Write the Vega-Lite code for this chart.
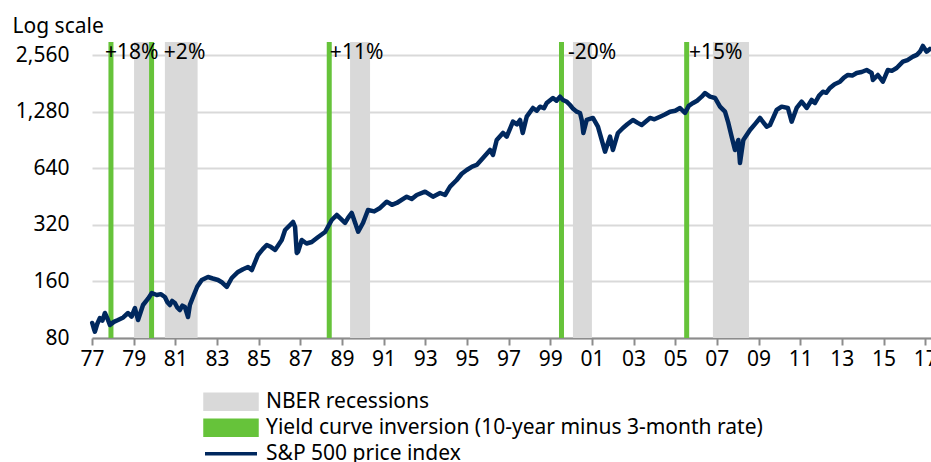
{
  "$schema": "https://vega.github.io/schema/vega-lite/v6.json",
  "width": 839,
  "height": 296,
  "autosize": "none",
  "padding": {"left": 92, "top": 42, "right": 0, "bottom": 124},
  "datasets": {
    "recessions": [
      {"start": 1979.02, "end": 1979.74},
      {"start": 1980.50, "end": 1982.07},
      {"start": 1989.39, "end": 1990.35},
      {"start": 2000.09, "end": 2001.00},
      {"start": 2006.81, "end": 2008.54}
    ],
    "inversions": [
      {"date": 1977.91},
      {"date": 1979.86},
      {"date": 1988.39},
      {"date": 1999.54},
      {"date": 2005.55}
    ],
    "labels": [
      {"x": 1977.62, "y": 2450, "text": "+18%"},
      {"x": 1980.45, "y": 2450, "text": "+2%"},
      {"x": 1988.42, "y": 2450, "text": "+11%"},
      {"x": 1999.85, "y": 2450, "text": "-20%"},
      {"x": 2005.66, "y": 2450, "text": "+15%"}
    ],
    "sp500": [
      {"year": 1977.01, "value": 96.2}, {"year": 1977.08, "value": 90.5}, {"year": 1977.14, "value": 86.4}, {"year": 1977.25, "value": 95.0}, {"year": 1977.38, "value": 102.2},
      {"year": 1977.50, "value": 99.0}, {"year": 1977.62, "value": 108.7}, {"year": 1977.75, "value": 101.0}, {"year": 1977.86, "value": 93.8}, {"year": 1978.05, "value": 97.5}, {"year": 1978.25, "value": 99.8},
      {"year": 1978.50, "value": 103.0}, {"year": 1978.73, "value": 108.7}, {"year": 1978.90, "value": 104.0}, {"year": 1979.06, "value": 115.6}, {"year": 1979.21, "value": 99.8},
      {"year": 1979.45, "value": 119.9}, {"year": 1979.70, "value": 130.0}, {"year": 1979.87, "value": 139.0}, {"year": 1980.11, "value": 135.6},
      {"year": 1980.30, "value": 137.0}, {"year": 1980.50, "value": 132.3}, {"year": 1980.62, "value": 124.0}, {"year": 1980.74, "value": 119.9}, {"year": 1980.85, "value": 126.0}, {"year": 1980.98, "value": 122.9},
      {"year": 1981.10, "value": 116.0}, {"year": 1981.22, "value": 112.8}, {"year": 1981.34, "value": 119.0}, {"year": 1981.46, "value": 117.0}, {"year": 1981.61, "value": 103.5},
      {"year": 1981.70, "value": 120.0}, {"year": 1981.85, "value": 132.3}, {"year": 1982.05, "value": 150.0}, {"year": 1982.27, "value": 163.0}, {"year": 1982.57, "value": 169.1},
      {"year": 1982.80, "value": 166.0}, {"year": 1983.05, "value": 163.0}, {"year": 1983.25, "value": 158.0}, {"year": 1983.47, "value": 149.6}, {"year": 1983.71, "value": 167.0},
      {"year": 1984.01, "value": 179.8}, {"year": 1984.25, "value": 186.0}, {"year": 1984.49, "value": 191.2}, {"year": 1984.67, "value": 184.2},
      {"year": 1984.97, "value": 221.5}, {"year": 1985.20, "value": 238.0}, {"year": 1985.39, "value": 250.4}, {"year": 1985.60, "value": 244.0}, {"year": 1985.79, "value": 235.5},
      {"year": 1986.11, "value": 266.2}, {"year": 1986.27, "value": 301.0}, {"year": 1986.51, "value": 320.0},
      {"year": 1986.65, "value": 332.0}, {"year": 1986.75, "value": 312.2}, {"year": 1986.83, "value": 227.0},
      {"year": 1986.89, "value": 230.0}, {"year": 1987.07, "value": 266.2}, {"year": 1987.30, "value": 255.0}, {"year": 1987.55, "value": 259.8},
      {"year": 1987.86, "value": 276.2}, {"year": 1988.19, "value": 293.7}, {"year": 1988.51, "value": 340.3},
      {"year": 1988.75, "value": 361.8}, {"year": 1988.95, "value": 345.0}, {"year": 1989.15, "value": 328.0}, {"year": 1989.30, "value": 350.0}, {"year": 1989.47, "value": 370.8},
      {"year": 1989.78, "value": 294.8}, {"year": 1990.01, "value": 328.0}, {"year": 1990.25, "value": 384.7}, {"year": 1990.55, "value": 378.0},
      {"year": 1990.83, "value": 394.2}, {"year": 1991.15, "value": 425.9}, {"year": 1991.40, "value": 410.0}, {"year": 1991.63, "value": 419.2},
      {"year": 1992.11, "value": 452.8}, {"year": 1992.35, "value": 440.0}, {"year": 1992.59, "value": 462.4}, {"year": 1992.99, "value": 481.5},
      {"year": 1993.37, "value": 452.8}, {"year": 1993.71, "value": 473.8}, {"year": 1993.95, "value": 462.4},
      {"year": 1994.19, "value": 511.9}, {"year": 1994.51, "value": 555.8}, {"year": 1994.75, "value": 600.0}, {"year": 1994.99, "value": 628.3},
      {"year": 1995.25, "value": 655.0}, {"year": 1995.47, "value": 668.0}, {"year": 1995.77, "value": 728.0}, {"year": 1996.11, "value": 803.1},
      {"year": 1996.25, "value": 755.3}, {"year": 1996.43, "value": 907.9}, {"year": 1996.73, "value": 989.4},
      {"year": 1996.91, "value": 945.4}, {"year": 1997.21, "value": 1136.5}, {"year": 1997.40, "value": 1100.0}, {"year": 1997.55, "value": 1160.5},
      {"year": 1997.68, "value": 989.4}, {"year": 1997.87, "value": 1208.3}, {"year": 1998.17, "value": 1344.5}, {"year": 1998.35, "value": 1300.0},
      {"year": 1998.51, "value": 1366.1}, {"year": 1998.70, "value": 1340.0}, {"year": 1998.83, "value": 1429.5}, {"year": 1999.13, "value": 1520.0},
      {"year": 1999.30, "value": 1470.0}, {"year": 1999.47, "value": 1544.4}, {"year": 1999.61, "value": 1483.0}, {"year": 1999.80, "value": 1450.0}, {"year": 1999.95, "value": 1394.8},
      {"year": 2000.10, "value": 1330.0}, {"year": 2000.27, "value": 1284.7}, {"year": 2000.43, "value": 1264.3}, {"year": 2000.52, "value": 1150.0}, {"year": 2000.59, "value": 989.4},
      {"year": 2000.75, "value": 1160.5}, {"year": 2001.05, "value": 1189.3}, {"year": 2001.29, "value": 1068.9},
      {"year": 2001.47, "value": 907.9}, {"year": 2001.63, "value": 786.5}, {"year": 2001.87, "value": 945.4},
      {"year": 2002.01, "value": 803.1}, {"year": 2002.25, "value": 989.4}, {"year": 2002.49, "value": 1051.9}, {"year": 2002.70, "value": 1100.0},
      {"year": 2002.97, "value": 1160.5}, {"year": 2003.20, "value": 1120.0}, {"year": 2003.39, "value": 1091.4}, {"year": 2003.79, "value": 1189.3},
      {"year": 2004.00, "value": 1170.0}, {"year": 2004.27, "value": 1208.3}, {"year": 2004.50, "value": 1240.0}, {"year": 2004.75, "value": 1284.7}, {"year": 2005.00, "value": 1300.0}, {"year": 2005.23, "value": 1344.5},
      {"year": 2005.47, "value": 1264.3}, {"year": 2005.65, "value": 1380.0}, {"year": 2005.86, "value": 1429.5}, {"year": 2006.05, "value": 1470.0}, {"year": 2006.27, "value": 1544.4},
      {"year": 2006.43, "value": 1616.0}, {"year": 2006.67, "value": 1544.4}, {"year": 2006.91, "value": 1520.0},
      {"year": 2007.15, "value": 1366.1}, {"year": 2007.39, "value": 1284.7}, {"year": 2007.55, "value": 1118.5},
      {"year": 2007.71, "value": 945.4}, {"year": 2007.87, "value": 803.1}, {"year": 2008.03, "value": 907.9},
      {"year": 2008.11, "value": 684.6}, {"year": 2008.27, "value": 907.9}, {"year": 2008.59, "value": 1026.4}, {"year": 2008.85, "value": 1110.0},
      {"year": 2009.07, "value": 1189.3}, {"year": 2009.39, "value": 1068.9}, {"year": 2009.55, "value": 1091.4},
      {"year": 2009.87, "value": 1311.8}, {"year": 2010.11, "value": 1366.1}, {"year": 2010.41, "value": 1344.5},
      {"year": 2010.59, "value": 1136.5}, {"year": 2010.83, "value": 1344.5}, {"year": 2011.07, "value": 1452.6},
      {"year": 2011.31, "value": 1344.5}, {"year": 2011.55, "value": 1483.0}, {"year": 2011.71, "value": 1429.5}, {"year": 2011.90, "value": 1560.0},
      {"year": 2012.09, "value": 1642.0}, {"year": 2012.25, "value": 1620.0}, {"year": 2012.43, "value": 1718.3}, {"year": 2012.65, "value": 1800.0}, {"year": 2012.91, "value": 1856.3},
      {"year": 2013.10, "value": 1950.0}, {"year": 2013.29, "value": 2015.3}, {"year": 2013.50, "value": 2000.0}, {"year": 2013.71, "value": 2065.3}, {"year": 2013.95, "value": 2090.0}, {"year": 2014.19, "value": 2142.6},
      {"year": 2014.43, "value": 2065.3}, {"year": 2014.49, "value": 1895.4}, {"year": 2014.73, "value": 2015.3},
      {"year": 2014.97, "value": 1856.3}, {"year": 2015.21, "value": 2142.6}, {"year": 2015.40, "value": 2120.0}, {"year": 2015.63, "value": 2195.9},
      {"year": 2015.93, "value": 2372.6}, {"year": 2016.15, "value": 2420.0}, {"year": 2016.41, "value": 2522.8}, {"year": 2016.60, "value": 2580.0}, {"year": 2016.75, "value": 2682.3},
      {"year": 2016.89, "value": 2876.5}, {"year": 2017.07, "value": 2682.3}, {"year": 2017.23, "value": 2772.7}
    ]
  },
  "layer": [
    {
      "data": {"name": "recessions"},
      "mark": {"type": "rect"},
      "encoding": {
        "x": {"field": "start", "type": "quantitative", "scale": {"domain": [1977, 2017.28], "nice": false, "zero": false}},
        "x2": {"field": "end"},
        "color": {
          "datum": "NBER recessions",
          "type": "nominal",
          "scale": {
            "domain": ["NBER recessions", "Yield curve inversion (10-year minus 3-month rate)", "S&P 500 price index"],
            "range": ["#d9d9d9", "#66c33a", "#00285e"]
          },
          "legend": {
            "title": null,
            "orient": "none",
            "legendX": 111,
            "legendY": 347,
            "direction": "vertical",
            "padding": 0,
            "symbolSize": 2704,
            "clipHeight": 25.5,
            "rowPadding": 0,
            "labelOffset": 7,
            "labelFontSize": 21,
            "labelFont": "Noto Sans",
            "labelColor": "#000000",
            "labelLimit": 700,
            "encode": {
              "symbols": {
                "update": {
                  "shape": {"signal": "datum.value === 'S&P 500 price index' ? 'M-1,0H1' : 'M-1,-0.29H1V0.29H-1Z'"},
                  "fill": {"signal": "datum.value === 'NBER recessions' ? '#d9d9d9' : (datum.value === 'S&P 500 price index' ? 'transparent' : '#66c33a')"},
                  "stroke": {"signal": "datum.value === 'S&P 500 price index' ? '#00285e' : 'transparent'"},
                  "strokeWidth": {"value": 3.5},
                  "opacity": {"value": 1},
                  "fillOpacity": {"value": 1},
                  "strokeOpacity": {"value": 1}
                }
              }
            }
          }
        }
      }
    },
    {
      "data": {"name": "inversions"},
      "mark": {"type": "rule", "strokeWidth": 5},
      "encoding": {
        "x": {"field": "date", "type": "quantitative"},
        "color": {"datum": "Yield curve inversion (10-year minus 3-month rate)", "type": "nominal"}
      }
    },
    {
      "data": {"name": "sp500"},
      "mark": {"type": "line", "strokeWidth": 4.5, "strokeJoin": "round", "strokeCap": "round"},
      "encoding": {
        "x": {
          "field": "year",
          "type": "quantitative",
          "axis": {
            "title": null,
            "values": [1977, 1979, 1981, 1983, 1985, 1987, 1989, 1991, 1993, 1995, 1997, 1999, 2001, 2003, 2005, 2007, 2009, 2011, 2013, 2015, 2017],
            "labelExpr": "substring(toString(datum.value), 2)",
            "grid": false,
            "domainColor": "#8c8c8c",
            "domainWidth": 2,
            "tickColor": "#8c8c8c",
            "tickWidth": 2,
            "tickSize": 7,
            "labelPadding": 3,
            "labelFontSize": 21,
            "labelColor": "#000000",
            "labelFont": "Noto Sans",
            "labelFlush": false,
            "labelOverlap": false
          }
        },
        "y": {
          "field": "value",
          "type": "quantitative",
          "scale": {"type": "log", "domain": [80, 3020], "nice": false},
          "axis": {
            "title": "Log scale",
            "titleAngle": 0,
            "titleAlign": "left",
            "titleBaseline": "alphabetic",
            "titleX": -80,
            "titleY": -10,
            "titleFontSize": 21,
            "titleFontWeight": "normal",
            "titleFont": "Noto Sans",
            "titleColor": "#000000",
            "values": [80, 160, 320, 640, 1280, 2560],
            "format": ",d",
            "domain": false,
            "ticks": false,
            "labelPadding": 23,
            "labelFontSize": 21,
            "labelColor": "#000000",
            "labelFont": "Noto Sans",
            "grid": true,
            "gridColor": "#d9d9d9",
            "gridWidth": 2
          }
        },
        "color": {"datum": "S&P 500 price index", "type": "nominal"}
      }
    },
    {
      "data": {"name": "labels"},
      "mark": {"type": "text", "align": "left", "baseline": "alphabetic", "fontSize": 21, "font": "Noto Sans", "color": "#000000"},
      "encoding": {
        "x": {"field": "x", "type": "quantitative"},
        "y": {"field": "y", "type": "quantitative"},
        "text": {"field": "text"}
      }
    }
  ],
  "config": {
    "view": {"stroke": null},
    "font": "Noto Sans"
  }
}
